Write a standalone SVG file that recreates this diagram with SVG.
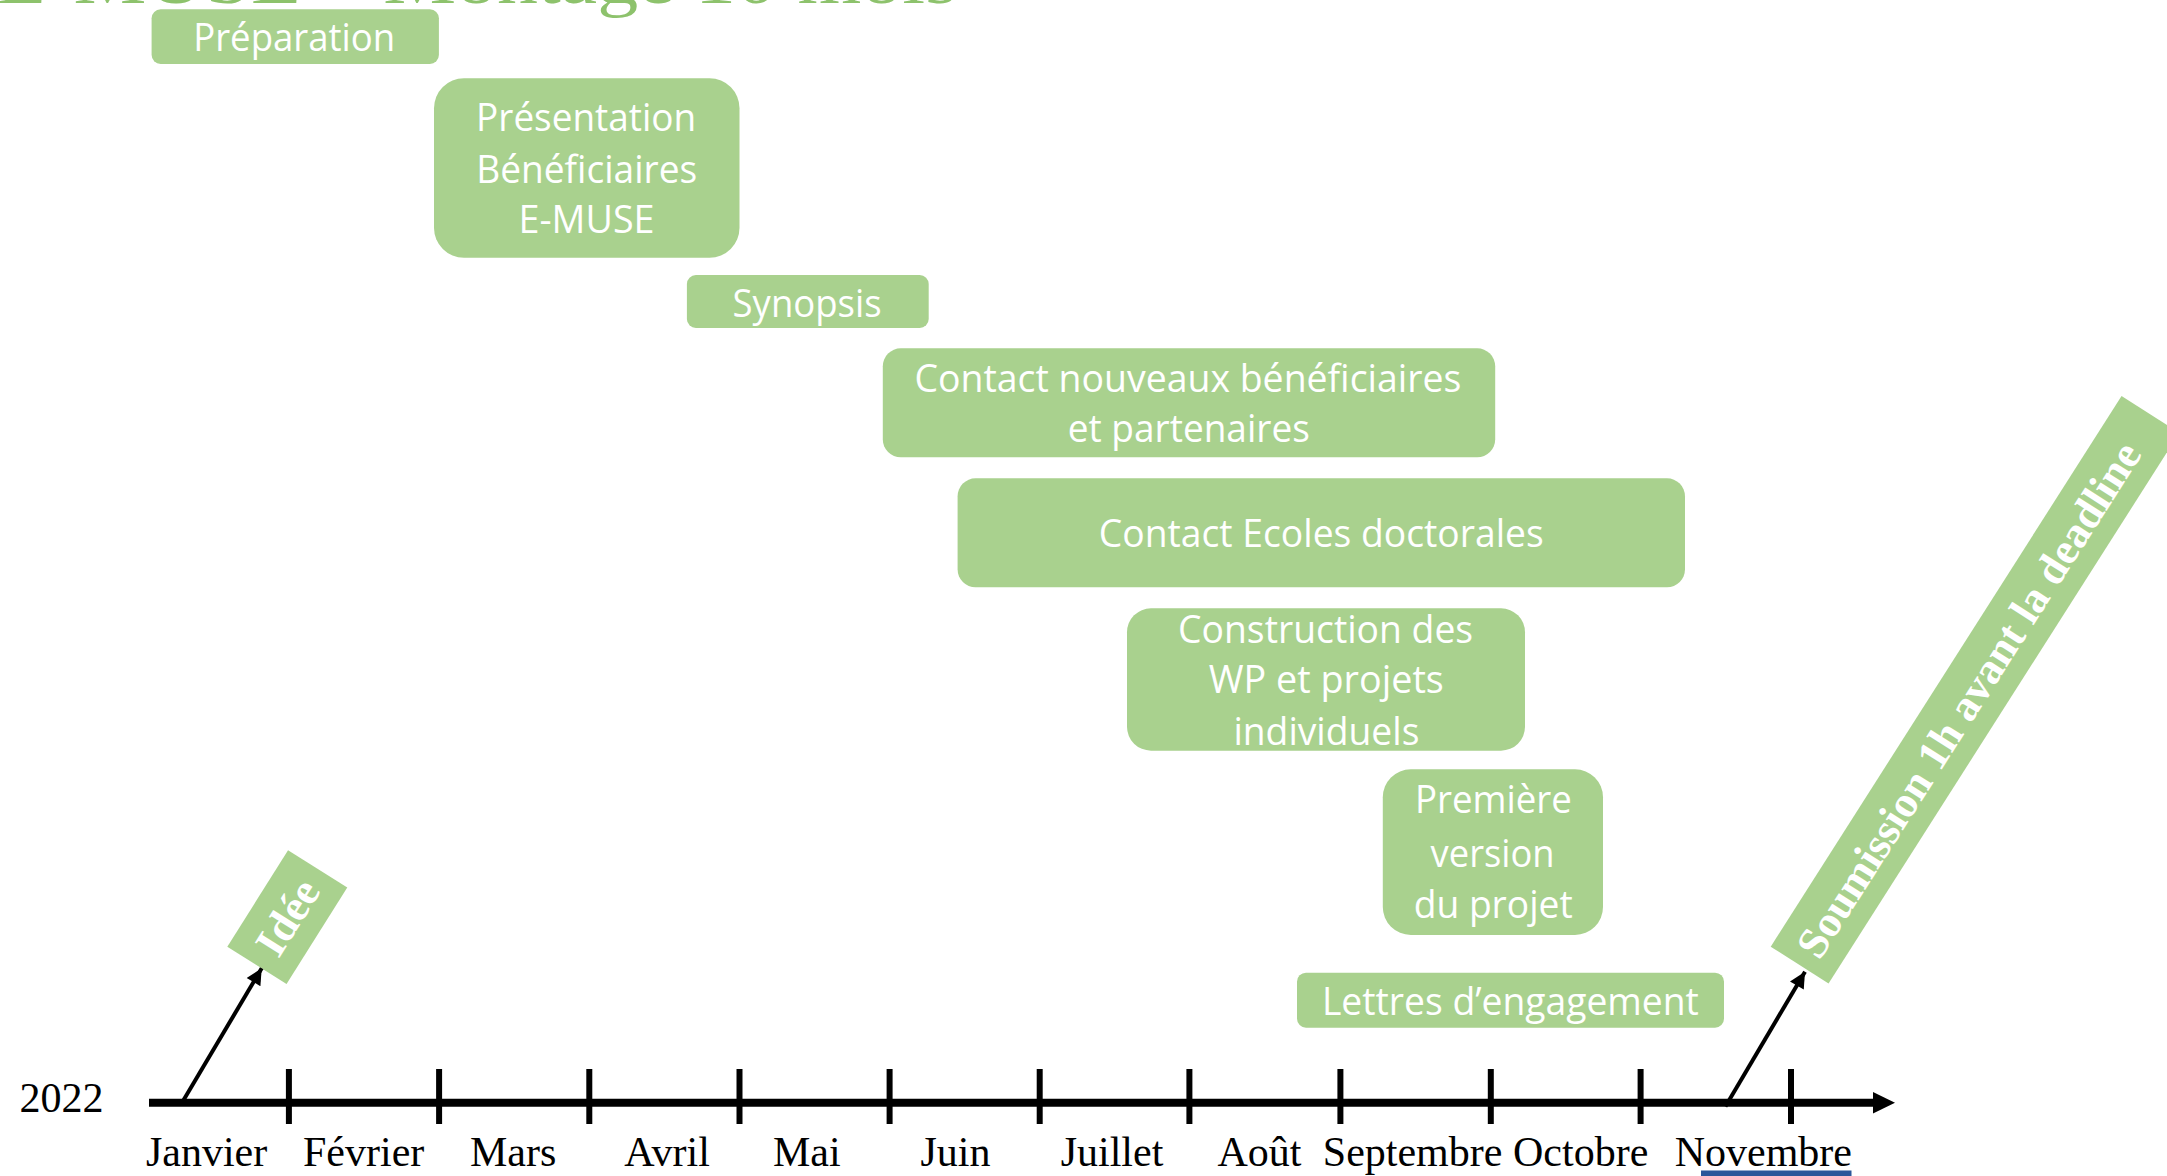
<svg xmlns="http://www.w3.org/2000/svg" width="2167" height="1176" viewBox="0 0 2167 1176">
<defs>
<style>
.box{fill:#A9D18E}
.bt{font-family:"Open Sans","Noto Sans",sans-serif;font-size:38px;fill:#ffffff;text-anchor:middle}
.rt{font-family:"Liberation Serif","Times New Roman",serif;font-size:44px;font-weight:bold;fill:#ffffff}
.mt{font-family:"Liberation Serif","Times New Roman",serif;font-size:42px;fill:#000000}
.title{font-family:"Liberation Serif","Times New Roman",serif;font-size:70px;fill:#8DC26C}
.conn{stroke:#000;stroke-width:4;fill:none}
</style>
<marker id="arr" viewBox="0 0 10 10" refX="10" refY="5" markerWidth="4.5" markerHeight="4" orient="auto" markerUnits="strokeWidth">
<path d="M0,0 L10,5 L0,10 Z" fill="#000"/>
</marker>
</defs>
<rect width="2167" height="1176" fill="#ffffff"/>

<g id="title">
<text class="title" x="-4" y="3" textLength="961" lengthAdjust="spacingAndGlyphs">E-MUSE – Montage 10 mois</text>
</g>

<g id="preparation">
<rect class="box" x="151.6" y="9.3" width="287.3" height="54.7" rx="9"/>
<text class="bt" x="294.2" y="50.7" textLength="202" lengthAdjust="spacingAndGlyphs">Préparation</text>
</g>

<g id="presentation">
<rect class="box" x="434" y="78.3" width="305.5" height="179.4" rx="30"/>
<text class="bt" x="586.1" y="130.7" textLength="220" lengthAdjust="spacingAndGlyphs">Présentation</text>
<text class="bt" x="586.7" y="182.7" textLength="221" lengthAdjust="spacingAndGlyphs">Bénéficiaires</text>
<text class="bt" x="586.5" y="233.3" textLength="136" lengthAdjust="spacingAndGlyphs">E-MUSE</text>
</g>

<g id="synopsis">
<rect class="box" x="686.9" y="275" width="241.8" height="53" rx="9"/>
<text class="bt" x="807.1" y="316.5" textLength="149" lengthAdjust="spacingAndGlyphs">Synopsis</text>
</g>

<g id="contact-nouveaux">
<rect class="box" x="882.8" y="348.3" width="612.4" height="109" rx="18"/>
<text class="bt" x="1187.9" y="391.7" textLength="547" lengthAdjust="spacingAndGlyphs">Contact nouveaux bénéficiaires</text>
<text class="bt" x="1188.8" y="441.7" textLength="242" lengthAdjust="spacingAndGlyphs">et partenaires</text>
</g>

<g id="contact-ecoles">
<rect class="box" x="957.6" y="478.3" width="727.4" height="109" rx="18"/>
<text class="bt" x="1321.3" y="547.3" textLength="445" lengthAdjust="spacingAndGlyphs">Contact Ecoles doctorales</text>
</g>

<g id="construction">
<rect class="box" x="1127" y="608.3" width="398" height="142.4" rx="24"/>
<text class="bt" x="1325.6" y="642.7" textLength="295" lengthAdjust="spacingAndGlyphs">Construction des</text>
<text class="bt" x="1326.3" y="693.3" textLength="235" lengthAdjust="spacingAndGlyphs">WP et projets</text>
<text class="bt" x="1326.4" y="745" textLength="186" lengthAdjust="spacingAndGlyphs">individuels</text>
</g>

<g id="premiere">
<rect class="box" x="1382.8" y="769.3" width="220.2" height="165.7" rx="28"/>
<text class="bt" x="1493.4" y="813.3" textLength="157" lengthAdjust="spacingAndGlyphs">Première</text>
<text class="bt" x="1492.6" y="866.7" textLength="124" lengthAdjust="spacingAndGlyphs">version</text>
<text class="bt" x="1493.2" y="918.3" textLength="159" lengthAdjust="spacingAndGlyphs">du projet</text>
</g>

<g id="lettres">
<rect class="box" x="1297" y="972.7" width="427" height="55" rx="9"/>
<text class="bt" x="1510.4" y="1015" textLength="377" lengthAdjust="spacingAndGlyphs">Lettres d’engagement</text>
</g>

<g id="idee" transform="translate(227.3,946.7) rotate(-57.8)">
<rect class="box" x="0" y="0" width="114" height="70"/>
<text class="rt" x="57" y="50" text-anchor="middle">Idée</text>
</g>

<g id="soumission" transform="translate(1770.7,946.7) rotate(-57.5)">
<rect class="box" x="0" y="0" width="653" height="68.6"/>
<text class="rt" x="14" y="49">Soumission 1h avant la deadline</text>
</g>

<g id="timeline">
<line x1="149" y1="1102.7" x2="1876" y2="1102.7" stroke="#000" stroke-width="8"/>
<polygon points="1873,1092 1895,1102.7 1873,1113.4" fill="#000"/>
<g stroke="#000" stroke-width="6">
<line x1="288.9" y1="1069" x2="288.9" y2="1124"/>
<line x1="439.1" y1="1069" x2="439.1" y2="1124"/>
<line x1="589.3" y1="1069" x2="589.3" y2="1124"/>
<line x1="739.5" y1="1069" x2="739.5" y2="1124"/>
<line x1="889.6" y1="1069" x2="889.6" y2="1124"/>
<line x1="1039.7" y1="1069" x2="1039.7" y2="1124"/>
<line x1="1189.4" y1="1069" x2="1189.4" y2="1124"/>
<line x1="1340.4" y1="1069" x2="1340.4" y2="1124"/>
<line x1="1490.8" y1="1069" x2="1490.8" y2="1124"/>
<line x1="1640.6" y1="1069" x2="1640.6" y2="1124"/>
<line x1="1791" y1="1069" x2="1791" y2="1124"/>
</g>
<text class="mt" x="19.6" y="1111.7">2022</text>
<text class="mt" x="145.9" y="1166">Janvier</text>
<text class="mt" x="303" y="1166">Février</text>
<text class="mt" x="470" y="1166">Mars</text>
<text class="mt" x="624.3" y="1166">Avril</text>
<text class="mt" x="773" y="1166">Mai</text>
<text class="mt" x="920.4" y="1166">Juin</text>
<text class="mt" x="1060.7" y="1166">Juillet</text>
<text class="mt" x="1217.4" y="1166">Août</text>
<text class="mt" x="1322.8" y="1166">Septembre</text>
<text class="mt" x="1513" y="1166">Octobre</text>
<text class="mt" x="1674.7" y="1166">Novembre</text>
<rect x="1701" y="1170.5" width="150.5" height="6" fill="#2B579A"/>
</g>

<g id="connectors">
<line class="conn" x1="182.4" y1="1102" x2="261.7" y2="968.3" marker-end="url(#arr)"/>
<line class="conn" x1="1725.4" y1="1106.5" x2="1805" y2="971.7" marker-end="url(#arr)"/>
</g>
</svg>
